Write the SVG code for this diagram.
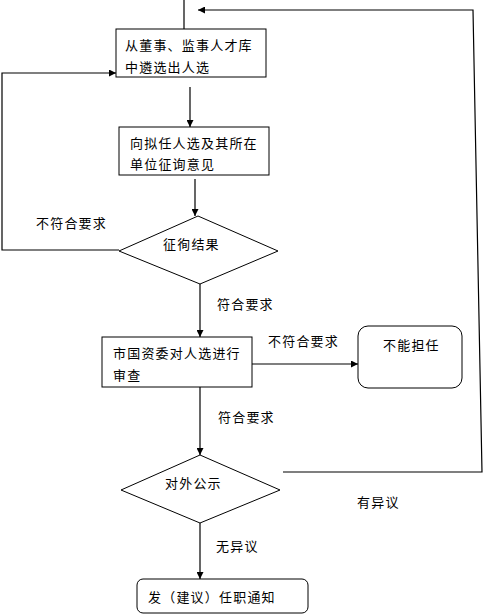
<svg xmlns="http://www.w3.org/2000/svg" width="483" height="616" viewBox="0 0 483 616">
<defs>
<marker id="ah" markerWidth="7" markerHeight="7" refX="7" refY="3.5" orient="auto" markerUnits="userSpaceOnUse">
<path d="M0,0 L7,3.5 L0,7 Z" fill="#000"/>
</marker>
<style>
.n{fill:#fff;stroke:#000;stroke-width:1}
.c{fill:none;stroke:#000;stroke-width:1.2}
.a{marker-end:url(#ah)}
text{font-family:"Noto Sans CJK SC","Noto Sans CJK JP",sans-serif;font-size:13px;letter-spacing:1.2px;fill:#000}
</style>
</defs>
<rect width="483" height="616" fill="#fff"/>
<g id="connectors">
<line class="c" x1="184" y1="0" x2="184" y2="29"/>
<line class="c a" x1="190" y1="87" x2="190" y2="127"/>
<line class="c a" x1="195" y1="179" x2="195" y2="216"/>
<polyline class="c a" points="119,250 2,250 2,73 116,73"/>
<line class="c a" x1="200" y1="284" x2="200" y2="337"/>
<line class="c a" x1="252" y1="364" x2="358" y2="364"/>
<line class="c a" x1="200" y1="387" x2="200" y2="455"/>
<polyline class="c a" points="283,472 482,472 473,10 198,10"/>
<line class="c a" x1="200" y1="523" x2="200" y2="579"/>
</g>
<g id="labels">
<text x="36" y="228">不符合要求</text>
<text x="217" y="309">符合要求</text>
<text x="268" y="346">不符合要求</text>
<text x="218" y="422">符合要求</text>
<text x="357" y="507">有异议</text>
<text x="216" y="551">无异议</text>
</g>
<g id="n1">
<rect class="n" x="116" y="29" width="150" height="48"/>
<text x="125" y="50">从董事、监事人才库</text>
<text x="125" y="72">中遴选出人选</text>
</g>
<g id="n2">
<rect class="n" x="119" y="127" width="150" height="48"/>
<text x="130" y="148">向拟任人选及其所在</text>
<text x="130" y="169">单位征询意见</text>
</g>
<g id="d1">
<polygon class="n" points="198,216 278,251 200,284 119,251"/>
<text x="163" y="249">征徇结果</text>
</g>
<g id="n3">
<rect class="n" x="102" y="337" width="150" height="50"/>
<text x="113" y="358">市国资委对人选进行</text>
<text x="113" y="380">审查</text>
</g>
<g id="n4">
<rect class="n" x="358" y="326" width="104" height="62" rx="10" ry="10"/>
<text x="383" y="350">不能担任</text>
</g>
<g id="d2">
<polygon class="n" points="200,455 280,490 200,523 121,490"/>
<text x="165" y="488">对外公示</text>
</g>
<g id="n5">
<rect class="n" x="137" y="579" width="171" height="34" rx="6" ry="6"/>
<text x="148" y="602">发（建议）任职通知</text>
</g>
</svg>
